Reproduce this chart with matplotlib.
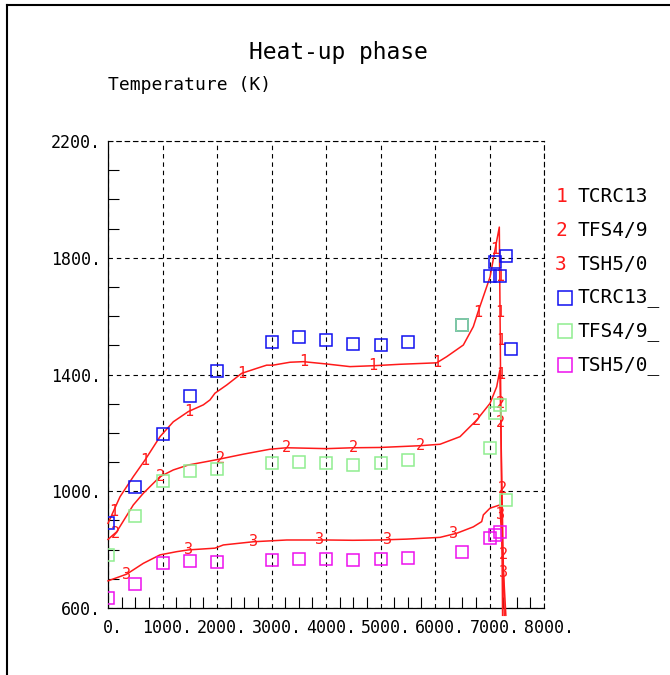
import matplotlib
matplotlib.use('Agg')
import matplotlib.pyplot as plt
import matplotlib.transforms as mtransforms
import numpy as np
from matplotlib.lines import Line2D
from matplotlib.ticker import MultipleLocator

plt.rcParams['font.family'] = ['DejaVu Sans Mono', 'DejaVu Sans']

# calculated temperatures (time in s, temperature in K)
t_crc13 = [0, 220, 464, 679, 954, 1198, 1474, 1749, 1872, 1963, 2178, 2453, 2728, 2911,
           3028, 3339, 3583, 4012, 4440, 4862, 5358, 6031, 6214, 6520, 6703, 6789, 7010,
           7101, 7180, 7240]
T_crc13 = [890, 981, 1050, 1107, 1187, 1238, 1273, 1296, 1313, 1336, 1364, 1404, 1421, 1432,
           1432, 1442, 1444, 1436, 1427, 1430, 1435, 1440, 1461, 1501, 1564, 1614, 1734,
           1827, 1905, 575]

t_fs49 = [0, 159, 464, 648, 954, 1198, 1474, 1963, 2483, 2972, 3279, 4012, 4495, 4991,
          5725, 6092, 6459, 6765, 7009, 7132, 7190, 7270]
T_fs49 = [835, 861, 953, 993, 1050, 1073, 1090, 1107, 1127, 1144, 1149, 1146, 1149, 1150,
          1156, 1161, 1187, 1244, 1301, 1358, 1415, 575]

t_sh50 = [0, 343, 648, 954, 1260, 1474, 1963, 2116, 2667, 3279, 4012, 4495, 4991, 5481,
          6092, 6398, 6703, 6857, 6887, 7009, 7190, 7300]
T_sh50 = [693, 716, 753, 782, 793, 799, 805, 816, 827, 833, 833, 832, 833, 836,
          842, 856, 878, 896, 919, 942, 953, 575]

# measured temperatures
tm_crc13 = [0, 500, 1000, 1500, 2000, 3000, 3500, 4000, 4500, 5000, 5500, 6500, 7000, 7100,
            7200, 7300, 7400]
Tm_crc13 = [891, 1015, 1195, 1326, 1412, 1510, 1530, 1518, 1504, 1501, 1510, 1570, 1737, 1786,
            1737, 1806, 1487]

tm_fs49 = [0, 500, 1000, 1500, 2000, 3000, 3500, 4000, 4500, 5000, 5500, 6500, 7000, 7100,
           7200, 7300]
Tm_fs49 = [782, 915, 1035, 1069, 1076, 1097, 1101, 1096, 1090, 1096, 1107, 1570, 1147, 1269,
           1295, 970]

tm_sh50 = [0, 500, 1000, 1500, 2000, 3000, 3500, 4000, 4500, 5000, 5500, 6500, 7000, 7100,
           7200]
Tm_sh50 = [634, 682, 754, 761, 758, 764, 767, 767, 764, 767, 772, 791, 839, 850, 861]

# where the curve numbers are written: times on the way up, temperatures on the drop
marks_crc13 = ([98, 679, 1474, 2453, 3583, 4862, 6031, 6789, 7101], [1737, 1614, 1518, 1400])
marks_fs49 = ([128, 954, 2055, 3279, 4495, 5725, 6765], [1302, 1234, 1011, 782])
marks_sh50 = ([343, 1474, 2667, 3890, 5125, 6349], [919, 720])

calc_names = ['TCRC13', 'TFS4/9', 'TSH5/0']
meas_names = ['TCRC13_', 'TFS4/9_', 'TSH5/0_']
meas_colors = ['#1010f0', '#90ee90', '#ee10ee']
red = '#ff1a1a'

W, H = 670, 675
fig = plt.figure(figsize=(W / 100, H / 100), dpi=100)
ax = fig.add_axes([108 / W, 1 - 608 / H, 436 / W, 467 / H])


def curve_marks(t, T, times, temps, digit):
    t = np.asarray(t, float)
    T = np.asarray(T, float)
    k = int(np.argmax(T))
    for x in times:
        y = np.interp(x, t[:k + 1], T[:k + 1])
        ax.text(x, y, digit, color=red, fontsize=11, ha='center', va='center', zorder=4)
    for y in temps:
        x = np.interp(y, [T[-1], T[k]], [t[-1], t[k]])
        ax.text(x, y, digit, color=red, fontsize=11, ha='center', va='center', zorder=4)


curves = [(t_crc13, T_crc13, marks_crc13), (t_fs49, T_fs49, marks_fs49), (t_sh50, T_sh50, marks_sh50)]
for i, (t, T, marks) in enumerate(curves):
    ax.plot(t, T, color=red, lw=1.1, clip_on=False, zorder=3)
    curve_marks(t, T, marks[0], marks[1], str(i + 1))

meas = [(tm_crc13, Tm_crc13), (tm_fs49, Tm_fs49), (tm_sh50, Tm_sh50)]
for (t, T), c in zip(meas, meas_colors):
    ax.plot(t, T, ls='none', marker='s', ms=8.5, mfc='none', mec=c, mew=1.1, zorder=5)

ax.set_xlim(0, 8000)
ax.set_ylim(600, 2200)
ax.set_xticks(np.arange(0, 8001, 1000))
ax.set_yticks(np.arange(600, 2201, 400))
ax.set_xticklabels([f'{v}.' for v in range(0, 8001, 1000)])
ax.set_yticklabels([f'{v}.' for v in range(600, 2201, 400)])
ax.xaxis.set_minor_locator(MultipleLocator(250))
ax.yaxis.set_minor_locator(MultipleLocator(100))
ax.tick_params(which='major', length=0, labelsize=12)
ax.tick_params(axis='y', which='major', pad=5)
ax.tick_params(axis='x', which='major', pad=8)
ax.tick_params(which='minor', direction='in', length=8, width=0.8, color='black')

# shift the x numbers a little to the right so the digits sit on the ticks
shift = mtransforms.ScaledTranslation(5 / 100, 0, fig.dpi_scale_trans)
for lab in ax.get_xticklabels():
    lab.set_transform(lab.get_transform() + shift)

dash = (0, (4, 3.5))
ax.grid(True, which='major', color='black', lw=0.8, linestyle=dash)
for side in ['top', 'right']:
    ax.spines[side].set_linestyle(dash)
    ax.spines[side].set_linewidth(0.8)
for side in ['left', 'bottom']:
    ax.spines[side].set_linewidth(0.9)

fig.text(338 / W, 1 - 53 / H, 'Heat-up phase', fontsize=16.5, ha='center', va='center')
fig.text(108 / W, 1 - 90 / H, 'Temperature (K)', fontsize=13, ha='left', va='baseline')

# legend column on the right
row_y = 197
for i, name in enumerate(calc_names + meas_names):
    y = 1 - row_y / H
    if i < 3:
        fig.text(561 / W, y, str(i + 1), color=red, fontsize=14, ha='center', va='center')
    else:
        fig.add_artist(Line2D([565 / W], [y], marker='s', ms=10, mfc='none',
                              mec=meas_colors[i - 3], mew=1.1))
    fig.text(577 / W, y, name, fontsize=14, ha='left', va='center')
    row_y += 33.6

# frame lines along the top and left edge
fig.add_artist(Line2D([7 / W, 7 / W], [0, 1 - 5 / H], color='black', lw=1.5))
fig.add_artist(Line2D([7 / W, 1], [1 - 5 / H, 1 - 5 / H], color='black', lw=1.5))

fig.savefig('out.png', dpi=100)
